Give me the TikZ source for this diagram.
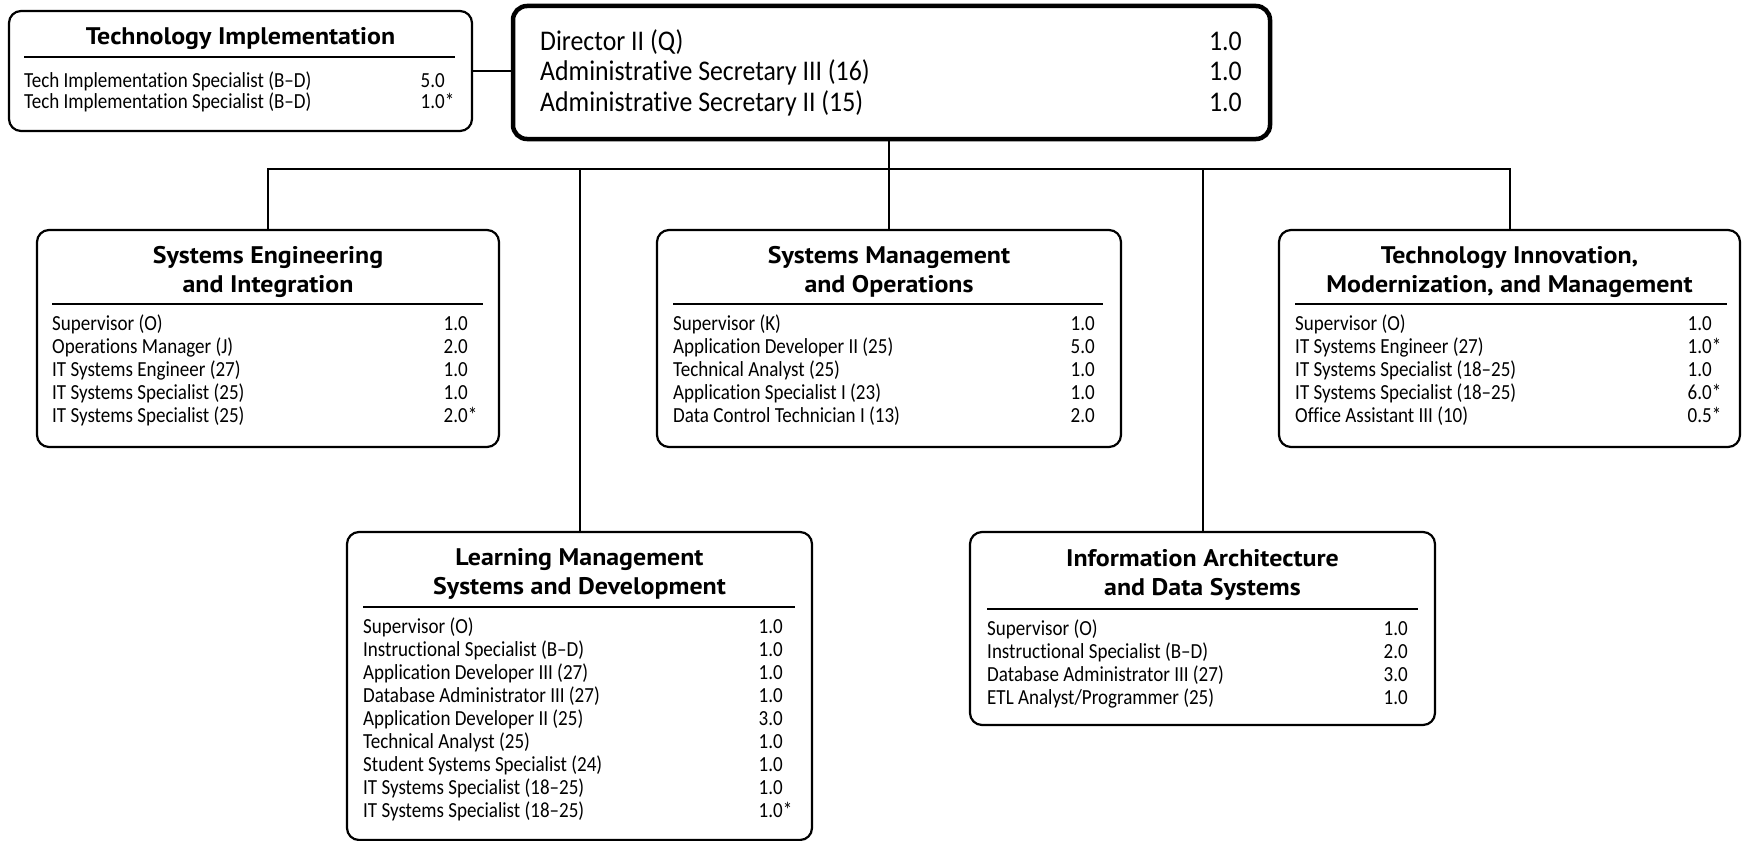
\documentclass[tikz,border=0pt]{standalone}
\usepackage{fontspec}
\setmainfont{Carlito}
\newfontfamily\rowfont[FakeStretch=0.885, Ligatures=NoCommon]{Carlito}
\newfontfamily\dirfont[FakeStretch=0.905, Ligatures=NoCommon]{Carlito}
\newfontfamily\headfont[FakeStretch=1.08]{PT Sans}
\tikzset{
  unitbox/.style={draw, line width=2.2bp, rounded corners=12bp, inner sep=0pt},
  dirbox/.style={draw, line width=4.5bp, rounded corners=14bp, inner sep=0pt},
  rowtext/.style={font=\rowfont\fontsize{21.5bp}{23bp}\selectfont, inner sep=0pt},
  dirtext/.style={font=\dirfont\fontsize{28.5bp}{30bp}\selectfont, inner sep=0pt},
  headtext/.style={font=\headfont\bfseries\fontsize{24bp}{29bp}\selectfont, align=center, inner sep=0pt},
  sepline/.style={line width=1.2bp},
  link/.style={line width=2bp},
}
\newcommand\staffrows[6]{%
  \foreach \rlabel/\rval [count=\i] in {#6}{%
    \node[rowtext, anchor=mid west] (#1t\i) at (#2, {#4+#5*(\i-1)}) {\rlabel};
    \node[rowtext, anchor=mid east] (#1n\i) at (#3, {#4+#5*(\i-1)}) {\rval};
  }}
\begin{document}
\begin{tikzpicture}[x=1bp,y=-1bp]
\useasboundingbox (0,0) rectangle (1742,841);
\fill[white] (0,0) rectangle (1742,841);

% boxes
\node[unitbox, minimum width=463bp, minimum height=120bp] (ti) at (240.5,71) {};
\node[dirbox, minimum width=757bp, minimum height=133bp] (dir) at (891.5,72.5) {};
\node[unitbox, minimum width=462bp, minimum height=217bp] (sei) at (268,338.5) {};
\node[unitbox, minimum width=464bp, minimum height=217bp] (smo) at (889,338.5) {};
\node[unitbox, minimum width=461bp, minimum height=217bp] (timm) at (1509.5,338.5) {};
\node[unitbox, minimum width=465bp, minimum height=308bp] (lms) at (579.5,686) {};
\node[unitbox, minimum width=465bp, minimum height=193bp] (iads) at (1202.5,628.5) {};

% connectors
\coordinate (bus) at (889,169);
\draw[link] (ti.east) -- (ti.east -| dir.west);
\draw[link] (bus |- dir.south) -- (bus);
\draw[link] (sei.north) -- (sei.north |- bus) -- (timm.north |- bus) -- (timm.north);
\draw[link] (lms.north) -- (lms.north |- bus);
\draw[link] (smo.north) -- (smo.north |- bus);
\draw[link] (iads.north) -- (iads.north |- bus);

% director
\node[dirtext, anchor=mid west] (d1) at (540,48) {Director II (Q)};
\node[dirtext, anchor=mid east] (d1n) at (1242,48) {1.0};
\node[dirtext, anchor=mid west] (d2) at (540,78.5) {Administrative Secretary III (16)};
\node[dirtext, anchor=mid east] (d2n) at (1242,78.5) {1.0};
\node[dirtext, anchor=mid west] (d3) at (540,109) {Administrative Secretary II (15)};
\node[dirtext, anchor=mid east] (d3n) at (1242,109) {1.0};

% Technology Implementation
\node[headtext] (tih) at (240.5,39) {Technology Implementation};
\draw[sepline] (24,57) -- (455,57);
\staffrows{ti}{24}{445}{85}{21}{Tech Implementation Specialist (B–D)/5.0, Tech Implementation Specialist (B–D)/1.0\rlap{*}}

% Systems Engineering and Integration
\node[headtext] (seih) at (268,272) {Systems Engineering\\and Integration};
\draw[sepline] (52,304) -- (483,304);
\staffrows{sei}{52}{468}{328.5}{23}{Supervisor (O)/1.0, Operations Manager (J)/2.0, IT Systems Engineer (27)/1.0, IT Systems Specialist (25)/1.0, IT Systems Specialist (25)/2.0\rlap{*}}

% Systems Management and Operations
\node[headtext] (smoh) at (889,272) {Systems Management\\and Operations};
\draw[sepline] (673,304) -- (1103,304);
\staffrows{smo}{673}{1095}{328.5}{23}{Supervisor (K)/1.0, Application Developer II (25)/5.0, Technical Analyst (25)/1.0, Application Specialist I (23)/1.0, Data Control Technician I (13)/2.0}

% Technology Innovation, Modernization, and Management
\node[headtext] (timmh) at (1509.5,272) {Technology Innovation,\\Modernization, and Management};
\draw[sepline] (1295,304) -- (1727,304);
\staffrows{timm}{1295}{1712}{328.5}{23}{Supervisor (O)/1.0, IT Systems Engineer (27)/1.0\rlap{*}, IT Systems Specialist (18–25)/1.0, IT Systems Specialist (18–25)/6.0\rlap{*}, Office Assistant III (10)/0.5\rlap{*}}

% Learning Management Systems and Development
\node[headtext] (lmsh) at (579.5,574) {Learning Management\\Systems and Development};
\draw[sepline] (363,607) -- (795,607);
\staffrows{lms}{363}{783}{631}{23}{Supervisor (O)/1.0, Instructional Specialist (B–D)/1.0, Application Developer III (27)/1.0, Database Administrator III (27)/1.0, Application Developer II (25)/3.0, Technical Analyst (25)/1.0, Student Systems Specialist (24)/1.0, IT Systems Specialist (18–25)/1.0, IT Systems Specialist (18–25)/1.0\rlap{*}}

% Information Architecture and Data Systems
\node[headtext] (iadsh) at (1202.5,575) {Information Architecture\\and Data Systems};
\draw[sepline] (987,609) -- (1418,609);
\staffrows{iads}{987}{1408}{633}{23}{Supervisor (O)/1.0, Instructional Specialist (B–D)/2.0, Database Administrator III (27)/3.0, {ETL Analyst/Programmer (25)}/1.0}
\end{tikzpicture}
\end{document}
